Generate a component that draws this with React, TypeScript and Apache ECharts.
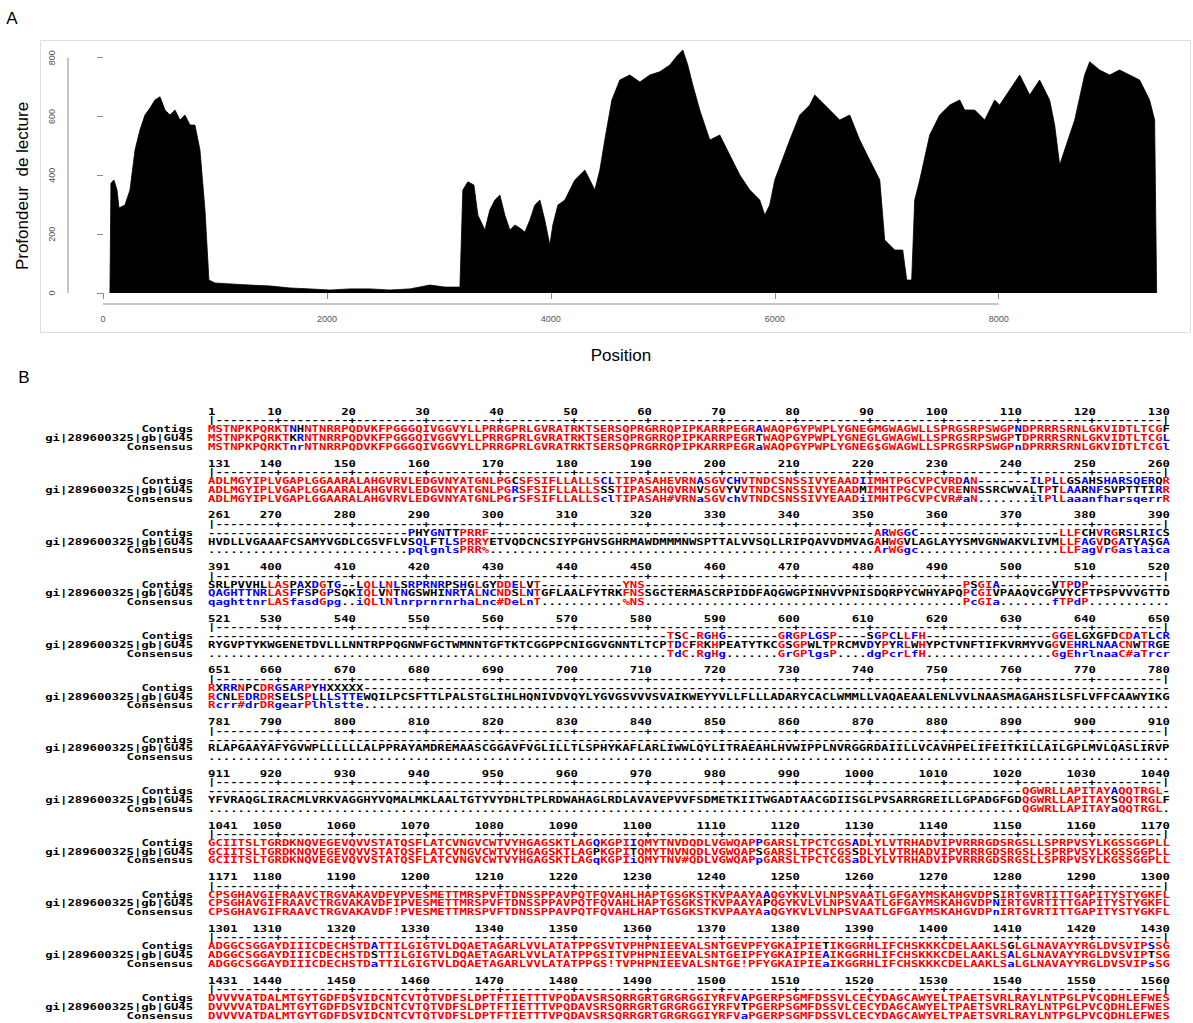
import { useEffect, useRef } from "react";
import * as echarts from "echarts";

// ---------- Panel A : read depth along the genome ----------
const positions = [
  62, 71, 98, 125, 143, 196, 241, 286, 330, 375, 420, 464, 509, 554, 598, 643, 688, 732, 777, 821, 866, 911, 946,
  1000, 1134, 1313, 1491, 1670, 1848, 2027, 2205, 2384, 2563, 2741, 2920, 3054, 3188,
  3214, 3259, 3313, 3348, 3411, 3455, 3500, 3545, 3589, 3634, 3679, 3723, 3768, 3813, 3857, 3902, 3946, 3991, 4018,
  4063, 4125, 4214, 4304, 4393, 4438, 4482, 4545, 4616, 4705, 4795, 4884, 4973, 5063, 5134, 5179, 5223, 5268, 5330,
  5375, 5420, 5509, 5598, 5688, 5777, 5866, 5911, 5955, 6000, 6134, 6223, 6313, 6357, 6402, 6491, 6580, 6670, 6759,
  6848, 6938, 6982, 7071, 7143, 7179, 7223, 7250, 7295, 7384, 7473, 7563, 7652, 7696, 7786, 7875, 7964, 8009, 8098,
  8188, 8277, 8366, 8455, 8500, 8545, 8589, 8679, 8768, 8813, 8902, 8991, 9080, 9170, 9259, 9348, 9393, 9411,
];
const depths = [
  0, 374, 384, 350, 289, 299, 350, 486, 554, 605, 629, 656, 667, 622, 605, 622, 588, 605, 571, 571, 486, 282, 44,
  34, 31, 27, 24, 17, 14, 10, 14, 14, 10, 14, 27, 20, 20,
  350, 378, 367, 265, 214, 282, 316, 333, 265, 214, 231, 221, 207, 248, 299, 316, 248, 163, 231,
  299, 316, 384, 418, 350, 418, 520, 656, 724, 741, 717, 741, 752, 775, 809, 826, 775, 707, 622,
  571, 520, 537, 469, 401, 350, 316, 265, 299, 384, 520, 605, 639, 673, 656, 622, 588, 605, 520,
  452, 384, 180, 146, 146, 44, 44, 316, 384, 537, 605, 639, 656, 622, 622, 588, 656, 639, 690,
  741, 673, 724, 656, 571, 435, 486, 588, 741, 786, 758, 741, 758, 741, 724, 656, 588, 0,
];
const xTickValues = [0, 2000, 4000, 6000, 8000];
const yTickValues = [0, 200, 400, 600, 800];

// ---------- Panel B : alignment ----------
const rowLabels = ["Contigs", "gi|289600325|gb|GU45", "Consensus"];
const blockStarts = [1, 131, 261, 391, 521, 651, 781, 911, 1041, 1171, 1301, 1431];
const gap = (n: number) => "-".repeat(n);
const dots = (n: number) => ".".repeat(n);

const contigs = [
  "MSTNPKPQRKTNHNTNRRPQDVKFPGGGQIVGGVYLLPRRGPRLGVRATRKTSERSQPRGRRQPIP" + "KARRPEGRAWAQPGYPWPLYGNEGMGWAGWLLSPRGSRPSWGPNDPRRRSRNLGKVIDTLTCGF",
  "ADLMGYIPLVGAPLGGAARALAHGVRVLEDGVNYATGNLPGCSFSIFLLALLSCLTIPASAHEVRN" + "ASGVCHVTNDCSNSSIVYEAADIIMHTPGCVPCVRDAN-------ILPLLGSAHSHARSQERQR",
  gap(27) + "PHYGNTTPRRF" + gap(52) + "ARWGGC" + gap(19) + "LLFCHVRGRSLRICS",
  "SRLPVVHLLASPAXDGTG--LQLLNLSRPRNRPSHGLGYDDELVT" + gap(11) + "YNS" + gap(43) + "PSGIA" + gap(7) + "VTPDP" + gap(11),
  gap(62) + "TSC-RGHG" + gap(7) + "GRGPLGSP" + gap(4) + "SGPCLLFH" + gap(17) + "GGELGXGFDCDATLCR",
  "RXRRNPCDRGSARPYHXXXXX" + gap(109),
  gap(130),
  gap(110) + "QGWRLLAPITAYAQQTRGL-",
  "GCIITSLTGRDKNQVEGEVQVVSTATQSFLATCVNGVCWTVYHGAGSKTLAGQKGPIIQMYTNVDQ" + "DLVGWQAPPGARSLTPCTCGSADLYLVTRHADVIPVRRRGDSRGSLLSPRPVSYLKGSSGGPLL",
  "CPSGHAVGIFRAAVCTRGVAKAVDFVPVESMETTMRSPVFTDNSSPPAVPQTFQVAHLHAPTGSGK" + "STKVPAAYAAQGYKVLVLNPSVAATLGFGAYMSKAHGVDPSIRTGVRTITTGAPITYSTYGKFL",
  "ADGGCSGGAYDIIICDECHSTDATTILGIGTVLDQAETAGARLVVLATATPPGSVTVPHPNIEEVA" + "LSNTGEVPFYGKAIPIETIKGGRHLIFCHSKKKCDELAAKLSGLGLNAVAYYRGLDVSVIPSSG",
  "DVVVVATDALMTGYTGDFDSVIDCNTCVTQTVDFSLDPTFTIETTTVPQDAVSRSQRRGRTGRGRG" + "GIYRFVAPGERPSGMFDSSVLCECYDAGCAWYELTPAETSVRLRAYLNTPGLPVCQDHLEFWES",
];
const gu45 = [
  "MSTNPKPQRKTKRNTNRRPQDVKFPGGGQIVGGVYLLPRRGPRLGVRATRKTSERSQPRGRRQPIP" + "KARRPEGRTWAQPGYPWPLYGNEGLGWAGWLLSPRGSRPSWGPTDPRRRSRNLGKVIDTLTCGL",
  "ADLMGYIPLVGAPLGGAARALAHGVRVLEDGVNYATGNLPGRSFSIFLLALLSSSTIPASAHQVRN" + "VSGVYVVTNDCSNSSIVYEAADMIMHTPGCVPCVRENNSSRCWVALTPTLAARNFSVPTTTIRR",
  "HVDLLVGAAAFCSAMYVGDLCGSVFLVSQLFTLSPRRYETVQDCNCSIYPGHVSGHRMAWDMMMNW" + "SPTTALVVSQLLRIPQAVVDMVAGAHWGVLAGLAYYSMVGNWAKVLIVMLLFAGVDGATYASGA",
  "QAGHTTNRLASFFSPGPSQKIQLVNTNGSWHINRTALNCNDSLNTGFLAALFYTRKFNSSGCTERM" + "ASCRPIDDFAQGWGPINHVVPNISDQRPYCWHYAPQPCGIVPAAQVCGPVYCFTPSPVVVGTTD",
  "RYGVPTYKWGENETDVLLLNNTRPPQGNWFGCTWMNNTGFTKTCGGPPCNIGGVGNNTLTCPTDCF" + "RKHPEATYTKCGSGPWLTPRCMVDYPYRLWHYPCTVNFTIFKVRMYVGGVEHRLNAACNWTRGE",
  "RCNLEDRDRSELSPLLLSTTEWQILPCSFTTLPALSTGLIHLHQNIVDVQYLYGVGSVVVSVAIKW" + "EYYVLLFLLLADARYCACLWMMLLVAQAEAALENLVVLNAASMAGAHSILSFLVFFCAAWYIKG",
  "RLAPGAAYAFYGVWPLLLLLLALPPRAYAMDREMAASCGGAVFVGLILLTLSPHYKAFLARLIWWL" + "QYLITRAEAHLHVWIPPLNVRGGRDAIILLVCAVHPELIFEITKILLAILGPLMVLQASLIRVP",
  "YFVRAQGLIRACMLVRKVAGGHYVQMALMKLAALTGTYVYDHLTPLRDWAHAGLRDLAVAVEPVVF" + "SDMETKIITWGADTAACGDIISGLPVSARRGREILLGPADGFGDQGWRLLAPITAYSQQTRGLF",
  "GCIITSLTGRDKNQVEGEVQVVSTATQSFLATCVNGVCWTVYHGAGSKTLAGPKGPITQMYTNVNQ" + "DLVGWQAPSGARSLTPCTCGSSDLYLVTRHADVIPVRRRGDSRGSLLSPRPVSYLKGSSGGPLL",
  "CPSGHAVGIFRAAVCTRGVAKAVDFIPVESMETTMRSPVFTDNSSPPAVPQTFQVAHLHAPTGSGK" + "STKVPAAYAPQGYKVLVLNPSVAATLGFGAYMSKAHGVDPNIRTGVRTITTGAPITYSTYGKFL",
  "ADGGCSGGAYDIIICDECHSTDSTTILGIGTVLDQAETAGARLVVLATATPPGSITVPHPNIEEVA" + "LSNTGEIPFYGKAIPIEAIKGGRHLIFCHSKKKCDELAAKLSALGLNAVAYYRGLDVSVIPTSG",
  "DVVVVATDALMTGYTGDFDSVIDCNTCVTQTVDFSLDPTFTIETTTVPQDAVSRSQRRGRTGRGRG" + "GIYRFVTPGERPSGMFDSSVLCECYDAGCAWYELTPAETSVRLRAYLNTPGLPVCQDHLEFWES",
];
const consensus = [
  "MSTNPKPQRKTnrNTNRRPQDVKFPGGGQIVGGVYLLPRRGPRLGVRATRKTSERSQPRGRRQPIP" + "KARRPEGRaWAQPGYPWPLYGNEG$GWAGWLLSPRGSRPSWGPnDPRRRSRNLGKVIDTLTCGl",
  "ADLMGYIPLVGAPLGGAARALAHGVRVLEDGVNYATGNLPGrSFSIFLLALLSclTIPASAH#VRN" + "aSGVchVTNDCSNSSIVYEAADiIMHTPGCVPCVR#aN.......ilPlLaaanfharsqerrR",
  dots(27) + "pqlgnlsPRR%" + dots(52) + "ArWGgc" + dots(19) + "LLFagVrGaslaica",
  "qaghttnrLASfasdGpg..iQLlNlnrprnrnrhaLnc#DeLnT" + dots(11) + "%NS" + dots(43) + "PcGIa" + dots(7) + "fTPdP" + dots(11),
  dots(62) + "TdC.RgHg" + dots(7) + "GrGPlgsP" + dots(4) + "dgPcrLfH" + dots(17) + "GgEhrlnaaC#aTrcr",
  "Rcrr#drDRgearPlhlstte" + dots(109),
  dots(130),
  dots(110) + "QGWRLLAPITAYaQQTRGL.",
  "GCIITSLTGRDKNQVEGEVQVVSTATQSFLATCVNGVCWTVYHGAGSKTLAGqKGPIiQMYTNV#Q" + "DLVGWQAPpGARSLTPCTCGSaDLYLVTRHADVIPVRRRGDSRGSLLSPRPVSYLKGSSGGPLL",
  "CPSGHAVGIFRAAVCTRGVAKAVDF!PVESMETTMRSPVFTDNSSPPAVPQTFQVAHLHAPTGSGK" + "STKVPAAYAaQGYKVLVLNPSVAATLGFGAYMSKAHGVDPnIRTGVRTITTGAPITYSTYGKFL",
  "ADGGCSGGAYDIIICDECHSTDaTTILGIGTVLDQAETAGARLVVLATATPPGS!TVPHPNIEEVA" + "LSNTGE!PFYGKAIPIEaIKGGRHLIFCHSKKKCDELAAKLSaLGLNAVAYYRGLDVSVIPsSG",
  "DVVVVATDALMTGYTGDFDSVIDCNTCVTQTVDFSLDPTFTIETTTVPQDAVSRSQRRGRTGRGRG" + "GIYRFVaPGERPSGMFDSSVLCECYDAGCAWYELTPAETSVRLRAYLNTPGLPVCQDHLEFWES",
];

const RED = "#ff0000";
const BLUE = "#0000ff";
const BLACK = "#000000";
const SYMBOLS: Record<string, string> = { "!": "IV", "$": "LM", "%": "FY", "#": "NDQEBZ" };

const X0 = 208;
const PITCH = 7.4;
const FS = 9;
const SX = PITCH / (FS * 0.602);
const BLOCK_Y0 = 412;
const BLOCK_DY = 51.7;
const MONO = '"DejaVu Sans Mono", monospace';

function seqColor(ch: string, cons: string): string {
  if (ch === "-" || ch === "." || cons === ".") return BLACK;
  if (cons >= "A" && cons <= "Z") return ch.toUpperCase() === cons ? RED : BLACK;
  if (cons >= "a" && cons <= "z") return ch.toUpperCase() === cons.toUpperCase() ? BLUE : BLACK;
  const cls = SYMBOLS[cons];
  if (cls && cls.includes(ch.toUpperCase())) return RED;
  return BLACK;
}
function consColor(cons: string): string {
  if (cons === ".") return BLACK;
  if (cons >= "a" && cons <= "z") return BLUE;
  return RED;
}

function monoText(col: number, y: number, str: string, color: string) {
  return {
    type: "text",
    x: X0 + col * PITCH,
    y,
    scaleX: SX,
    silent: true,
    style: {
      text: str,
      fill: color,
      fontFamily: MONO,
      fontSize: FS,
      fontWeight: "bold",
      align: "left",
      verticalAlign: "middle",
    },
  };
}

function runs(str: string, colors: string[], y: number) {
  const out: any[] = [];
  let start = 0;
  for (let i = 1; i <= str.length; i++) {
    if (i === str.length || colors[i] !== colors[start]) {
      out.push(monoText(start, y, str.slice(start, i), colors[start]));
      start = i;
    }
  }
  return out;
}

function buildAlignment() {
  const els: any[] = [];
  blockStarts.forEach((s, b) => {
    const yNum = BLOCK_Y0 + b * BLOCK_DY;
    const yRuler = yNum + 8.5;
    const yRows = [yNum + 17.5, yNum + 26.2, yNum + 34.9];
    const n = contigs[b].length;
    els.push(monoText(0, yNum, String(s), BLACK));
    let ruler = "";
    for (let c = 0; c < n; c++) {
      const pos = s + c;
      if (c === n - 1 || c === 0) ruler += "|";
      else if (pos % 10 === 0) ruler += "+";
      else ruler += "-";
      if (pos % 10 === 0) {
        const t = String(pos);
        els.push(monoText(c - t.length + 1, yNum, t, BLACK));
      }
    }
    els.push(monoText(0, yRuler, ruler, BLACK));
    rowLabels.forEach((lab, r) => {
      els.push(monoText(-2 - lab.length, yRows[r], lab, BLACK));
    });
    const cons = consensus[b];
    [contigs[b], gu45[b]].forEach((row, r) => {
      const cols = row.split("").map((ch, i) => seqColor(ch, cons[i]));
      els.push(...runs(row, cols, yRows[r]));
    });
    els.push(...runs(cons, cons.split("").map(consColor), yRows[2]));
  });
  return els;
}

export default function App() {
  const ref = useRef<HTMLDivElement>(null);
  useEffect(() => {
    if (!ref.current) return;
    const chart = echarts.init(ref.current, null, { renderer: "svg" });
    const option: any = {
      animation: false,
      backgroundColor: "#ffffff",
      grid: { left: 103, top: 40, width: 1086, height: 253 },
      xAxis: {
        type: "value",
        min: 0,
        max: 9700,
        offset: 11,
        axisLine: { show: false },
        axisTick: { show: true, length: 6, lineStyle: { color: "#8c8c8c", width: 1 }, customValues: xTickValues },
        axisLabel: {
          customValues: xTickValues,
          formatter: (v: number) => String(v),
          fontSize: 9,
          color: "#555555",
          margin: 10,
          fontFamily: "Liberation Sans",
        },
        splitLine: { show: false },
      },
      yAxis: {
        type: "value",
        min: 0,
        max: 860,
        offset: 35,
        axisLine: { show: false },
        axisTick: { show: true, length: 6, lineStyle: { color: "#8c8c8c", width: 1 }, customValues: yTickValues },
        axisLabel: {
          customValues: yTickValues,
          formatter: (v: number) => String(v),
          fontSize: 9,
          color: "#555555",
          margin: 12,
          rotate: 90,
          fontFamily: "Liberation Sans",
        },
        splitLine: { show: false },
      },
      series: [
        {
          type: "line",
          data: positions.map((p, i) => [p, depths[i]]),
          symbol: "none",
          silent: true,
          lineStyle: { color: "#000000", width: 0.8 },
          areaStyle: { color: "#000000", opacity: 1 },
        },
      ],
    };
    chart.setOption(option);

    const a0 = chart.convertToPixel({ gridIndex: 0 }, [xTickValues[0], 0]) as number[];
    const a1 = chart.convertToPixel({ gridIndex: 0 }, [xTickValues[xTickValues.length - 1], yTickValues[yTickValues.length - 1]]) as number[];
    const xAxisY = a0[1] + 11;
    const yAxisX = a0[0] - 35;

    const titleStyle = { fontFamily: "Liberation Sans", fontSize: 17, fill: "#000000" };
    const graphics: any[] = [
      { type: "rect", silent: true, shape: { x: 40.5, y: 40.5, width: 1150, height: 292 }, style: { fill: "none", stroke: "#dddddd", lineWidth: 1 } },
      { type: "line", silent: true, shape: { x1: a0[0], y1: xAxisY, x2: a1[0], y2: xAxisY }, style: { stroke: "#8c8c8c", lineWidth: 1 } },
      { type: "line", silent: true, shape: { x1: yAxisX, y1: a0[1], x2: yAxisX, y2: a1[1] }, style: { stroke: "#8c8c8c", lineWidth: 1 } },
      { type: "text", silent: true, x: 12, y: 18, style: { ...titleStyle, text: "A", align: "center", verticalAlign: "middle" } },
      { type: "text", silent: true, x: 24, y: 377, style: { ...titleStyle, text: "B", align: "center", verticalAlign: "middle" } },
      { type: "text", silent: true, x: 621, y: 355, style: { ...titleStyle, text: "Position", align: "center", verticalAlign: "middle" } },
      { type: "text", silent: true, x: 22, y: 186, rotation: Math.PI / 2, style: { ...titleStyle, text: "Profondeur  de lecture", align: "center", verticalAlign: "middle" } },
      ...buildAlignment(),
    ];
    chart.setOption({ graphic: { elements: graphics } });
    return () => chart.dispose();
  }, []);
  return <div ref={ref} style={{ position: "fixed", left: 0, top: 0, width: 1193, height: 1023, background: "#ffffff" }} />;
}
